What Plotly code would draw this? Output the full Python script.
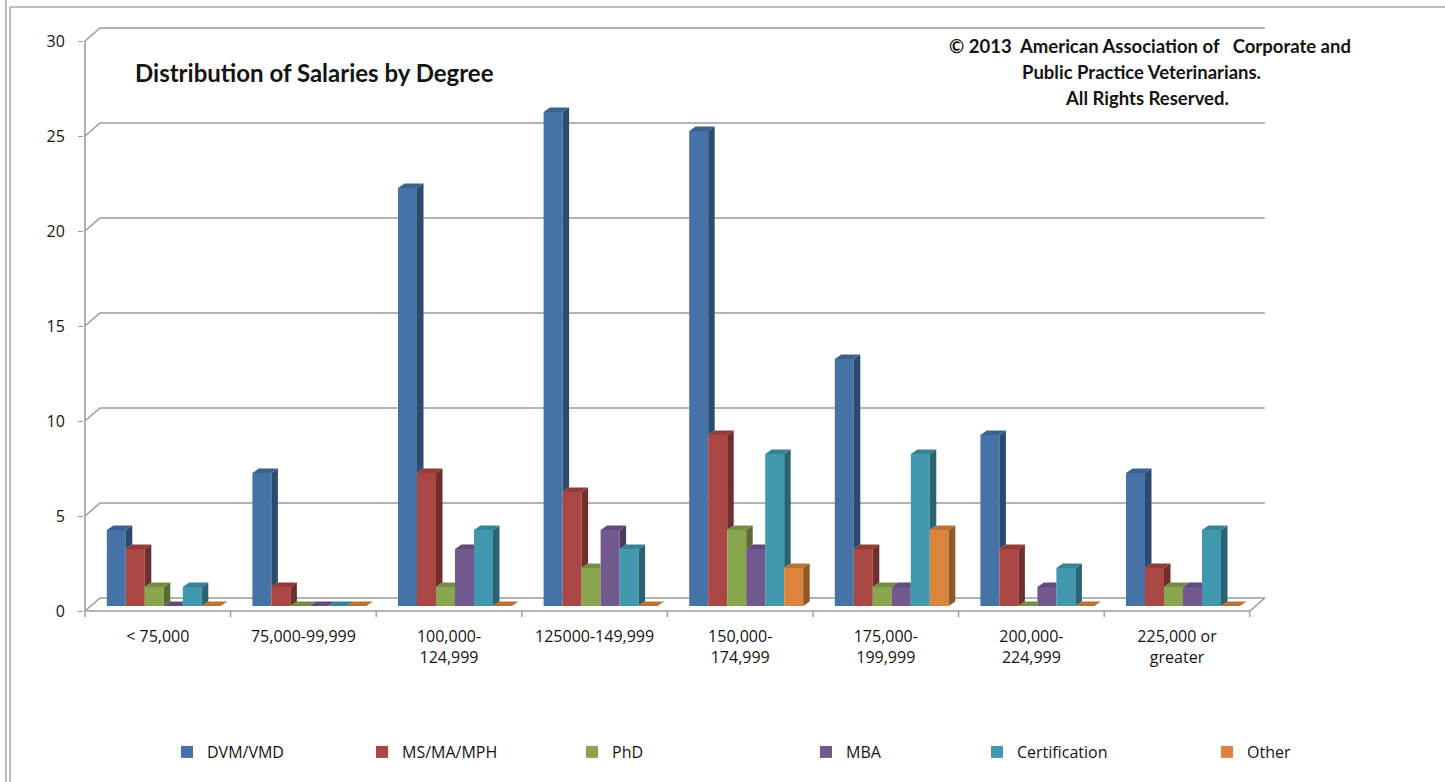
import plotly.graph_objects as go

# ---- data -------------------------------------------------------------
categories = ["< 75,000", "75,000-99,999", "100,000-<br>124,999", "125000-149,999",
              "150,000-<br>174,999", "175,000-<br>199,999", "200,000-<br>224,999",
              "225,000 or<br>greater"]
degrees = ["DVM/VMD", "MS/MA/MPH", "PhD", "MBA", "Certification", "Other"]
dvm = [4, 7, 22, 26, 25, 13, 9, 7]
ms = [3, 1, 7, 6, 9, 3, 3, 2]
phd = [1, 0, 1, 2, 4, 1, 0, 1]
mba = [0, 0, 3, 4, 3, 1, 1, 1]
cert = [1, 0, 4, 3, 8, 8, 2, 4]
other = [0, 0, 0, 0, 2, 4, 0, 0]
y_ticks = [0, 5, 10, 15, 20, 25, 30]

series = [dvm, ms, phd, mba, cert, other]
colors = ["#4572A7", "#AA4643", "#89A54E", "#71588F", "#4198AF", "#DB843D"]
legend_px = [187, 382, 592, 826, 997, 1227]   # legend swatch centres (px)

# ---- page geometry (pixels) -------------------------------------------
W, H = 1445, 782
L_PX, R_PX, T_PX, B_PX = 84, 1268, 20, 622     # plotting rectangle
X0_PX = 85          # front-left corner of the floor
CAT_PX = 145.6      # width of one category
BASE_PX = 606       # zero line of the bar plane
UNIT_PX = 19        # pixels per unit of value
FRONT_DY = 5        # front edge sits below the bar plane
BACK_DY = 8         # back wall sits above the bar plane
BACK_DX = 15        # back wall shifted right
BAR_SHIFT = 6       # bar plane shifted right from the front edge
BAR_W = 19
DEPTH_DX, DEPTH_DY = 6.5, 4.5


def ux(px):
    return px / CAT_PX


def uy(px):
    return px / UNIT_PX


def shade(hex_color, f):
    r, g, b = (int(hex_color[k:k + 2], 16) for k in (1, 3, 5))
    return "#%02x%02x%02x" % (int(r * f), int(g * f), int(b * f))


n_cat = len(categories)
n_ser = len(series)
w = ux(BAR_W)
gap_half = (1 - n_ser * w) / 2
ddx, ddy = ux(DEPTH_DX), uy(DEPTH_DY)
front = -uy(FRONT_DY)
back = uy(BACK_DY)
bdx = ux(BACK_DX)

fig = go.Figure()

# front faces as bars, depth faces (side + top) as filled polygons
for j, (name, vals, col) in enumerate(zip(degrees, series, colors)):
    xl_list = [i + gap_half + ux(BAR_SHIFT) + j * w for i in range(n_cat)]
    fig.add_trace(go.Bar(
        x=[xl + w / 2 for xl in xl_list], y=vals, width=w, name=name,
        marker=dict(color=col, line=dict(width=0)),
        legend="legend" if j == 0 else f"legend{j + 1}",
        hoverinfo="skip"))

    sx, sy, tx, ty = [], [], [], []
    for i, v in enumerate(vals):
        xl = xl_list[i]
        xr = xl + w
        nxt = series[j + 1][i] if j < n_ser - 1 else 0
        if v > nxt:
            sx += [xr, xr + ddx, xr + ddx, xr, None]
            sy += [nxt, nxt + ddy, v + ddy, v, None]
        if nxt > v:
            tx += [xl, xr, xr, xl + ddx, None]
        else:
            tx += [xl, xr, xr + ddx, xl + ddx, None]
        ty += [v, v, v + ddy, v + ddy, None]
    fig.add_trace(go.Scatter(x=sx, y=sy, mode="lines", fill="toself",
                             fillcolor=shade(col, 0.66), line=dict(width=0),
                             showlegend=False, hoverinfo="skip"))
    fig.add_trace(go.Scatter(x=tx, y=ty, mode="lines", fill="toself",
                             fillcolor=shade(col, 0.86), line=dict(width=0),
                             showlegend=False, hoverinfo="skip"))

# walls, floor and gridlines
grid_col = "#9c9c9c"
shapes = []
x_right_back = n_cat + bdx
for v in y_ticks:
    shapes.append(dict(type="path", xref="x", yref="y", layer="below",
                       path=f"M 0,{v + front} L {bdx},{v + back} L {x_right_back},{v + back}",
                       line=dict(color=grid_col, width=1.6)))
shapes.append(dict(type="line", xref="x", yref="y", layer="below",
                   x0=0, x1=0, y0=front, y1=y_ticks[-1] + front,
                   line=dict(color=grid_col, width=1.6)))
shapes.append(dict(type="path", xref="x", yref="y", layer="below",
                   path=f"M 0,{front} L {n_cat},{front} L {x_right_back},{back}",
                   line=dict(color=grid_col, width=1.6)))
for i in range(n_cat + 1):
    shapes.append(dict(type="line", xref="x", yref="y", layer="below",
                       x0=i, x1=i, y0=front, y1=front - uy(6),
                       line=dict(color=grid_col, width=1.4)))

# outer frame of the chart
def px_to_paper_x(px):
    return (px - L_PX) / (R_PX - L_PX)


def px_to_paper_y(py):
    return (B_PX - py) / (B_PX - T_PX)


frame_col = "#a8a8a8"
for fx in (6, 10):
    shapes.append(dict(type="line", xref="paper", yref="paper",
                       x0=px_to_paper_x(fx), x1=px_to_paper_x(fx),
                       y0=px_to_paper_y(0 if fx == 6 else 7), y1=px_to_paper_y(H),
                       line=dict(color=frame_col, width=1.5)))
shapes.append(dict(type="line", xref="paper", yref="paper",
                   x0=px_to_paper_x(10), x1=px_to_paper_x(W),
                   y0=px_to_paper_y(7), y1=px_to_paper_y(7),
                   line=dict(color=frame_col, width=1.5)))

font_main = "Open Sans, Lato, sans-serif"
text_col = "#141414"

annotations = [
    dict(text="<b>Distribution of Salaries by Degree</b>", xref="paper", yref="paper",
         x=px_to_paper_x(133), y=px_to_paper_y(72), xanchor="left", yanchor="middle",
         showarrow=False, font=dict(family="Lato, sans-serif", size=24, color=text_col)),
]
copyright_lines = ["© 2013\u00a0 American Association of \u00a0\u00a0Corporate and",
                   "Public Practice Veterinarians.",
                   "All Rights Reserved."]
for k, (line, cx) in enumerate(zip(copyright_lines, (1150, 1141, 1147))):
    annotations.append(dict(text=f"<b>{line}</b>", xref="paper", yref="paper",
                            x=px_to_paper_x(cx), y=px_to_paper_y(46 + 26 * k),
                            xanchor="center", yanchor="middle", showarrow=False,
                            font=dict(family="Lato, sans-serif", size=18.5, color=text_col)))

layout = dict(
    width=W, height=H,
    margin=dict(l=L_PX, r=W - R_PX, t=T_PX, b=H - B_PX, pad=0),
    paper_bgcolor="white", plot_bgcolor="white",
    barmode="overlay",
    font=dict(family=font_main, size=16, color=text_col),
    xaxis=dict(range=[ux(L_PX - X0_PX), ux(R_PX - X0_PX)],
               tickvals=[i + 0.5 for i in range(n_cat)], ticktext=categories,
               showgrid=False, zeroline=False, showline=False, ticks="",
               ticklabelstandoff=3, fixedrange=True),
    yaxis=dict(range=[uy(BASE_PX - B_PX), uy(BASE_PX - T_PX)],
               tickvals=[v + front for v in y_ticks], ticktext=[str(v) for v in y_ticks],
               showgrid=False, zeroline=False, showline=False,
               ticks="outside", ticklen=5, tickcolor=grid_col, tickwidth=1.4,
               ticklabelstandoff=10, fixedrange=True),
    shapes=shapes,
    annotations=annotations,
)

for j in range(n_ser):
    key = "legend" if j == 0 else f"legend{j + 1}"
    layout[key] = dict(x=(legend_px[j] - 20) / W, xref="container", xanchor="left",
                       y=1 - 752 / H, yref="container", yanchor="middle",
                       orientation="h", bgcolor="rgba(0,0,0,0)", borderwidth=0,
                       font=dict(family=font_main, size=16, color=text_col))

fig.update_layout(**layout)
fig.write_html("out.html")
